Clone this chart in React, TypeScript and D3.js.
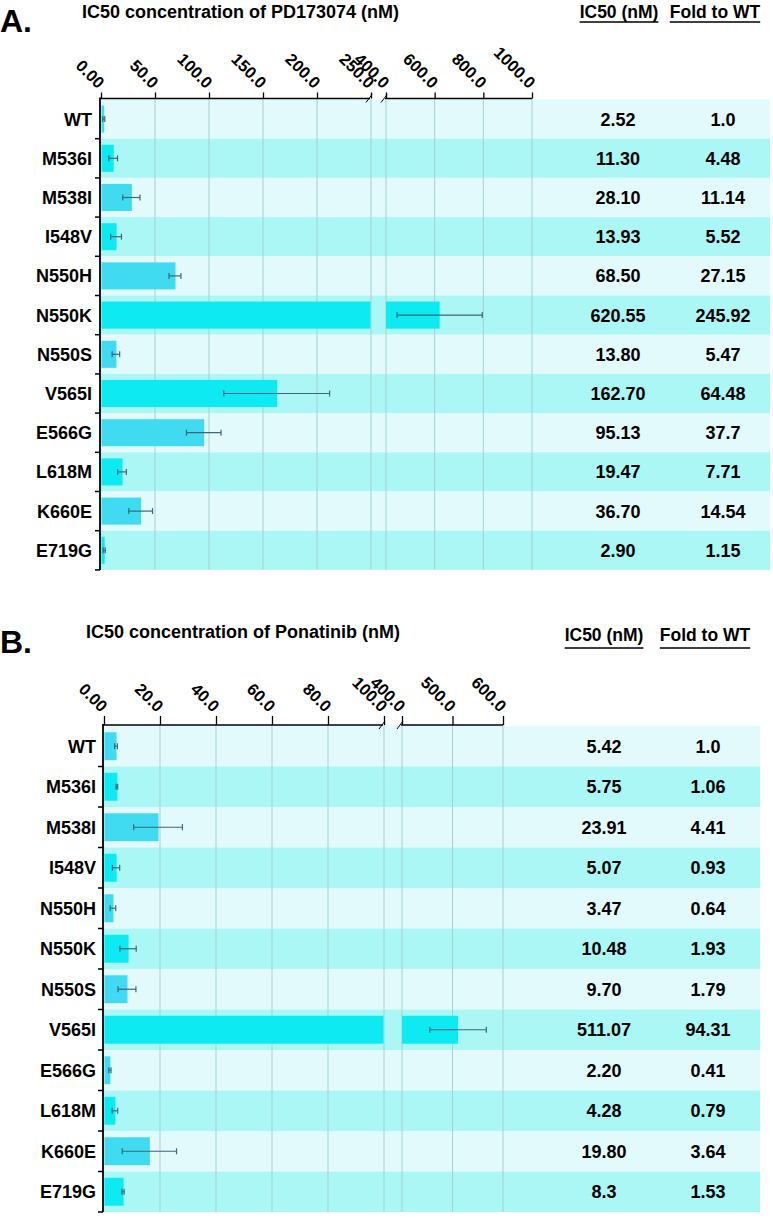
import React, { useEffect, useRef } from 'react';
import * as d3 from 'd3';

const mutants = ['WT', 'M536I', 'M538I', 'I548V', 'N550H', 'N550K', 'N550S', 'V565I', 'E566G', 'L618M', 'K660E', 'E719G'];

// A: PD173074
const ic50A = ['2.52', '11.30', '28.10', '13.93', '68.50', '620.55', '13.80', '162.70', '95.13', '19.47', '36.70', '2.90'];
const foldA = ['1.0', '4.48', '11.14', '5.52', '27.15', '245.92', '5.47', '64.48', '37.7', '7.71', '14.54', '1.15'];
const barA = [2.52, 11.3, 28.1, 13.93, 68.5, 620.55, 13.8, 162.7, 95.13, 19.47, 36.7, 2.9];
const errA = [1, 4, 8, 5, 5.5, 175, 3.5, 49, 16, 4, 11, 1];
const ticksA = [0, 50, 100, 150, 200, 250, 400, 600, 800, 1000];

// B: Ponatinib
const ic50B = ['5.42', '5.75', '23.91', '5.07', '3.47', '10.48', '9.70', '511.07', '2.20', '4.28', '19.80', '8.3'];
const foldB = ['1.0', '1.06', '4.41', '0.93', '0.64', '1.93', '1.79', '94.31', '0.41', '0.79', '3.64', '1.53'];
const barB = [4.3, 4.6, 19.3, 4.3, 3.2, 8.6, 8.2, 511, 2.1, 3.9, 16.2, 6.8];
const errB = [0.5, 0.3, 8.7, 1.3, 1.0, 2.9, 3.2, 56, 0.4, 1.0, 9.7, 0.4];
const ticksB = [0, 20, 40, 60, 80, 100, 400, 500, 600];

const FONT = '"Liberation Sans", Arial, sans-serif';

interface PanelCfg {
  letter: string;
  letterY: number;
  title: string;
  titleX: number;
  titleY: number;
  bars: number[];
  errs: number[];
  ic50: string[];
  fold: string[];
  ticks: number[];
  domain: number[];
  range: number[];
  axisY: number;
  top: number;
  rowH: number;
  tickLen: number;
  labelX: number;
  stripeRight: number;
  headIc50: number;
  headFold: number;
  colIc50: number;
  colFold: number;
  headY: number;
  lineY: number;
}

const panels: PanelCfg[] = [
  {
    letter: 'A.', letterY: 32, title: 'IC50 concentration of PD173074 (nM)', titleX: 82, titleY: 18,
    bars: barA, errs: errA, ic50: ic50A, fold: foldA, ticks: ticksA,
    domain: [0, 250, 400, 1000], range: [101, 371, 386, 532],
    axisY: 98.5, top: 99.5, rowH: 39.2, tickLen: 6, labelX: 92, stripeRight: 770,
    headIc50: 619, headFold: 715, colIc50: 618, colFold: 723, headY: 18, lineY: 22,
  },
  {
    letter: 'B.', letterY: 653, title: 'IC50 concentration of Ponatinib (nM)', titleX: 86, titleY: 638,
    bars: barB, errs: errB, ic50: ic50B, fold: foldB, ticks: ticksB,
    domain: [0, 100, 400, 600], range: [104, 384, 402, 503],
    axisY: 725, top: 726, rowH: 40.5, tickLen: 9, labelX: 96, stripeRight: 760,
    headIc50: 604, headFold: 705, colIc50: 604, colFold: 708, headY: 641, lineY: 648,
  },
];

function drawPanel(g: d3.Selection<SVGGElement, unknown, null, undefined>, cfg: PanelCfg) {
  const [lo, hi] = [cfg.domain[1], cfg.domain[2]];
  const x = d3.scaleLinear().domain(cfg.domain).range(cfg.range);
  const y = d3
    .scaleBand()
    .domain(mutants)
    .range([cfg.top, cfg.top + cfg.rowH * mutants.length]);
  const x0 = cfg.range[0];
  const bottom = cfg.top + cfg.rowH * mutants.length;

  // row stripes
  g.selectAll('rect.stripe')
    .data(mutants)
    .join('rect')
    .attr('x', x0)
    .attr('y', (d) => y(d) as number)
    .attr('width', cfg.stripeRight - x0)
    .attr('height', y.bandwidth())
    .attr('fill', (_d, i) => (i % 2 ? '#aaf7f6' : '#e2fafc'));

  // grid
  g.selectAll('line.grid')
    .data(cfg.ticks.filter((t) => t > 0))
    .join('line')
    .attr('x1', (d) => x(d))
    .attr('x2', (d) => x(d))
    .attr('y1', cfg.axisY)
    .attr('y2', bottom)
    .attr('stroke', '#a6cfd3')
    .attr('stroke-width', 1);

  // bars (split at the axis break)
  const bh = y.bandwidth() * 0.69;
  mutants.forEach((m, i) => {
    const v = cfg.bars[i];
    const segs = v > lo ? [[0, lo], [hi, v]] : [[0, v]];
    const yc = (y(m) as number) + y.bandwidth() / 2;
    const fill = i % 2 ? '#0eeaf1' : '#40dbf1';
    segs.forEach(([a, b], k) => {
      g.append('rect')
        .attr('x', x(a) + (k === 0 ? 0.5 : 0))
        .attr('y', yc - bh / 2)
        .attr('width', Math.max(0, x(b) - x(a) - (k === 0 && segs.length > 1 ? 1 : 0)))
        .attr('height', bh)
        .attr('fill', fill);
    });
    const e = cfg.errs[i];
    const xa = x(Math.max(0, v - e));
    const xb = x(v + e);
    const eg = g.append('g').attr('stroke', '#3d6679').attr('stroke-width', 1.2);
    eg.append('line').attr('x1', xa).attr('x2', xb).attr('y1', yc).attr('y2', yc);
    eg.append('line').attr('x1', xa).attr('x2', xa).attr('y1', yc - 3).attr('y2', yc + 3);
    eg.append('line').attr('x1', xb).attr('x2', xb).attr('y1', yc - 3).attr('y2', yc + 3);
  });

  // top axis
  const axis = d3
    .axisTop(x)
    .tickValues(cfg.ticks)
    .tickSize(cfg.tickLen)
    .tickSizeOuter(0)
    .tickFormat((d) => (+d === 0 ? '0.00' : (+d).toFixed(1)));
  const ag = g.append('g').attr('transform', `translate(0,${cfg.axisY})`).call(axis);
  ag.select('.domain').remove();
  ag.selectAll('.tick line').attr('stroke', '#000').attr('stroke-width', 1.3);
  ag.selectAll('.tick text')
    .attr('x', null)
    .attr('y', null)
    .attr('dy', null)
    .attr('text-anchor', 'end')
    .attr('transform', `translate(-4,${-cfg.tickLen - 3}) rotate(45)`)
    .attr('fill', '#000')
    .style('font', `bold 16.5px ${FONT}`);

  const axisLine = g.append('g').attr('stroke', '#000').attr('stroke-width', 1.6);
  axisLine.append('line').attr('x1', x0 - 1).attr('x2', x(lo) - 1).attr('y1', cfg.axisY).attr('y2', cfg.axisY);
  axisLine.append('line').attr('x1', x(hi) - 1).attr('x2', x(cfg.domain[3])).attr('y1', cfg.axisY).attr('y2', cfg.axisY);
  [x(lo) - 2, x(hi) - 2].forEach((bx) => {
    axisLine.append('line')
      .attr('x1', bx - 3).attr('x2', bx + 3)
      .attr('y1', cfg.axisY + 4).attr('y2', cfg.axisY - 4)
      .attr('stroke-width', 1);
  });

  // left axis
  const yl = g.append('g').attr('stroke', '#000');
  yl.append('line')
    .attr('x1', x0 - 1).attr('x2', x0 - 1)
    .attr('y1', cfg.axisY - 1).attr('y2', bottom)
    .attr('stroke-width', 1.8);
  yl.selectAll('line.rt')
    .data(d3.range(1, mutants.length + 1))
    .join('line')
    .attr('x1', x0 - 6).attr('x2', x0 - 1)
    .attr('y1', (i) => cfg.top + i * cfg.rowH)
    .attr('y2', (i) => cfg.top + i * cfg.rowH)
    .attr('stroke-width', 1.5);

  const txt = g.append('g').style('font', `bold 18px ${FONT}`).attr('fill', '#000');
  mutants.forEach((m, i) => {
    const yc = (y(m) as number) + y.bandwidth() / 2 + 6.5;
    txt.append('text').attr('x', cfg.labelX).attr('y', yc).attr('text-anchor', 'end').text(m);
    txt.append('text').attr('x', cfg.colIc50).attr('y', yc).attr('text-anchor', 'middle').text(cfg.ic50[i]);
    txt.append('text').attr('x', cfg.colFold).attr('y', yc).attr('text-anchor', 'middle').text(cfg.fold[i]);
  });

  // headings
  g.append('text')
    .attr('x', 0).attr('y', cfg.letterY)
    .style('font', `bold 32px ${FONT}`)
    .text(cfg.letter);
  g.append('text')
    .attr('x', cfg.titleX).attr('y', cfg.titleY)
    .style('font', `bold 18px ${FONT}`)
    .text(cfg.title);
  [['IC50 (nM)', cfg.headIc50], ['Fold to WT', cfg.headFold]].forEach(([label, cx]) => {
    const t = g.append('text')
      .attr('x', cx).attr('y', cfg.headY)
      .attr('text-anchor', 'middle')
      .style('font', `bold 17.5px ${FONT}`)
      .text(label as string);
    const w = (t.node() as SVGTextElement).getComputedTextLength();
    g.append('line')
      .attr('x1', (cx as number) - w / 2).attr('x2', (cx as number) + w / 2)
      .attr('y1', cfg.lineY).attr('y2', cfg.lineY)
      .attr('stroke', '#000').attr('stroke-width', 1.5);
  });
}

export default function App() {
  const ref = useRef<SVGSVGElement>(null);

  useEffect(() => {
    document.body.style.margin = '0';
    const svg = d3.select(ref.current);
    svg.selectAll('*').remove();
    panels.forEach((p) => drawPanel(svg.append('g'), p));
  }, []);

  return <svg ref={ref} width={773} height={1218} style={{ display: 'block', background: '#fff' }} />;
}
